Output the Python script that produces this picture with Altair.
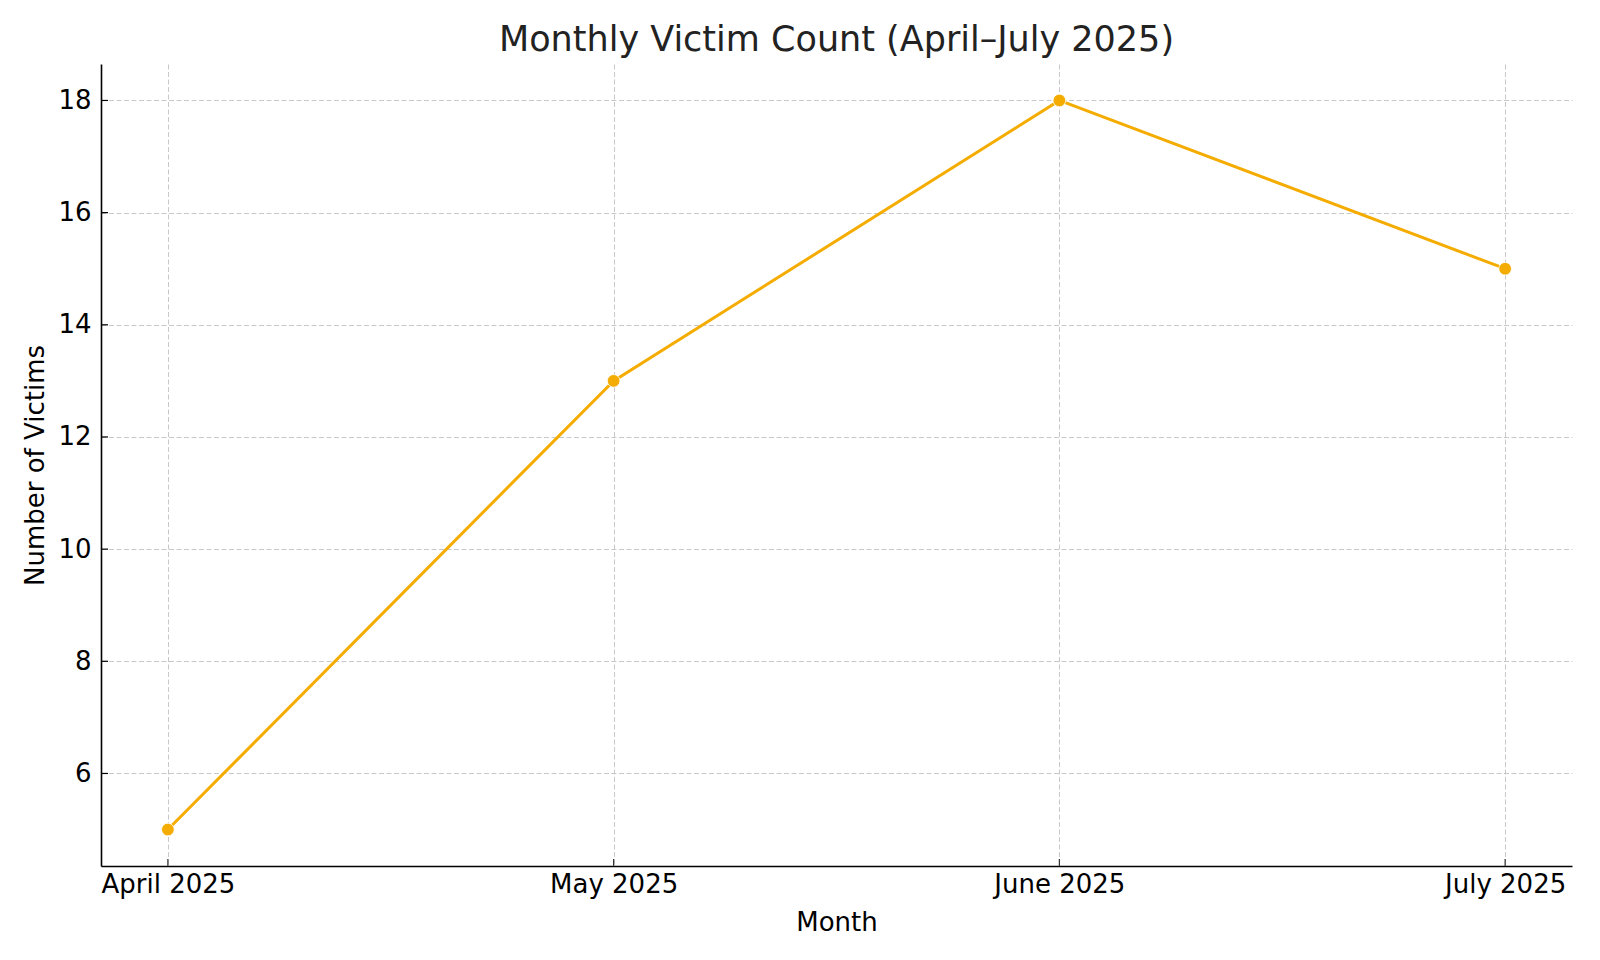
import altair as alt
import pandas as pd

months = ["April 2025", "May 2025", "June 2025", "July 2025"]
victims = [5, 13, 18, 15]
yticks = [6, 8, 10, 12, 14, 16, 18]

df = pd.DataFrame({"month": months, "victims": victims})
tick_df = pd.DataFrame({"v": yticks})

W, H = 1471, 802
COLOR = "#F5AC00"
FONT = "DejaVu Sans"

xscale = alt.Scale(type="point", padding=0.15)
yscale = alt.Scale(domain=[4.35, 18.65], nice=False, zero=False)

xaxis = alt.Axis(
    title="Month", labelFontSize=26, titleFontSize=26, labelFont=FONT, titleFont=FONT,
    labelColor="black", titleColor="black", titleFontWeight="normal",
    domainColor="black", domainWidth=1.6, ticks=False, labelPadding=18,
    titlePadding=12, labelAngle=0, labelAlign="center", grid=True, gridColor="#c8c8c8",
    gridDash=[5, 2.5], gridWidth=1, labelOverlap=False, labelBound=False,
)
yaxis = alt.Axis(
    title="Number of Victims", values=yticks, format="d", labelFontSize=26, titleFontSize=26,
    labelFont=FONT, titleFont=FONT, labelColor="black", titleColor="black",
    titleFontWeight="normal", domainColor="black", domainWidth=1.6, ticks=False,
    labelPadding=10, titlePadding=9, grid=True, gridColor="#c8c8c8",
    gridDash=[5, 2.5], gridWidth=1,
)

base = alt.Chart(df)

line = base.mark_line(color=COLOR, strokeWidth=3).encode(
    x=alt.X("month:O", sort=months, scale=xscale, axis=xaxis),
    y=alt.Y("victims:Q", scale=yscale, axis=yaxis),
)
points = base.mark_point(filled=True, color=COLOR, size=160, opacity=1,
                         stroke="white", strokeWidth=0.8).encode(
    x=alt.X("month:O", sort=months, scale=xscale),
    y=alt.Y("victims:Q", scale=yscale),
)
xticks = base.mark_rule(color="#333333", strokeWidth=1.2).encode(
    x=alt.X("month:O", sort=months, scale=xscale),
    y=alt.value(H),
    y2=alt.value(H - 7),
)
yt = alt.Chart(tick_df).mark_rule(color="black", strokeWidth=1.2).encode(
    y=alt.Y("v:Q", scale=yscale),
    x=alt.value(0),
    x2=alt.value(7),
)

chart = alt.layer(xticks, yt, line, points).properties(
    width=W, height=H,
    background="white",
    title=alt.TitleParams("Monthly Victim Count (April\u2013July 2025)", fontSize=35,
                          font=FONT, fontWeight="normal", color="#222222", offset=6),
    autosize=alt.AutoSizeParams(type="none"),
    padding={"left": 93, "top": 56, "right": 10, "bottom": 70},
).configure_view(strokeWidth=0, stroke="transparent")

chart.save("out.html", embed_options={"renderer": "svg", "actions": False})
